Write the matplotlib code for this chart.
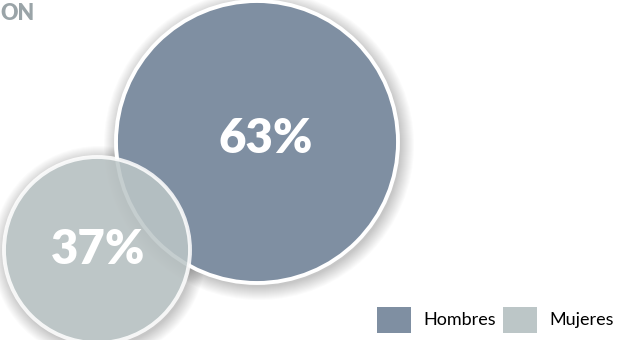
import matplotlib
matplotlib.use("Agg")
import matplotlib.pyplot as plt
from matplotlib.patches import Circle, Patch

categories = ["Hombres", "Mujeres"]
values = [63, 37]
labels = [f"{v}%" for v in values]
colors = ["#7F8FA2", "#BCC6C7"]

fig = plt.figure(figsize=(6.19, 3.40), dpi=100)
ax = fig.add_axes([0, 0, 1, 1])
ax.set_xlim(0, 619)
ax.set_ylim(340, 0)
ax.set_aspect("equal")
ax.axis("off")

# layout (pixel positions / sizes of circles)
centers = [(257, 142), (97, 250)]
radii = [141, 93]
alphas = [1.0, 0.86]
text_offsets = [(9, -3), (1, 0)]

for (cx, cy), r, c, a, lab, (dx, dy) in zip(centers, radii, colors, alphas,
                                            labels, text_offsets):
    # soft shadow
    for i in range(14):
        ax.add_patch(Circle((cx + 2, cy + 3), r + 1 + i * 1.0, color="black",
                            alpha=0.017, lw=0, zorder=1))
    ax.add_patch(Circle((cx, cy), r, facecolor=c, edgecolor="white",
                        lw=2.8, alpha=a, zorder=2))
    ax.text(cx + dx, cy + dy, lab, color="white", fontsize=34,
            fontweight="heavy", family=["Lato", "DejaVu Sans"],
            ha="center", va="center", zorder=5)

ax.text(0, 14, "ON", color="#9AA4A8", fontsize=15.5, fontweight="heavy",
        family=["Lato", "DejaVu Sans"], ha="left", va="center")

handles = [Patch(facecolor=c, edgecolor="none") for c in colors]
fig.legend(handles, categories, loc="lower right", ncol=2, frameon=False,
           bbox_to_anchor=(1.006, -0.005), borderaxespad=0.1,
           handlelength=1.85, handleheight=1.85,
           handletextpad=0.7, columnspacing=0.4,
           prop={"family": ["Lato", "DejaVu Sans"], "size": 13})

fig.savefig("out.png", dpi=100, facecolor="white")
